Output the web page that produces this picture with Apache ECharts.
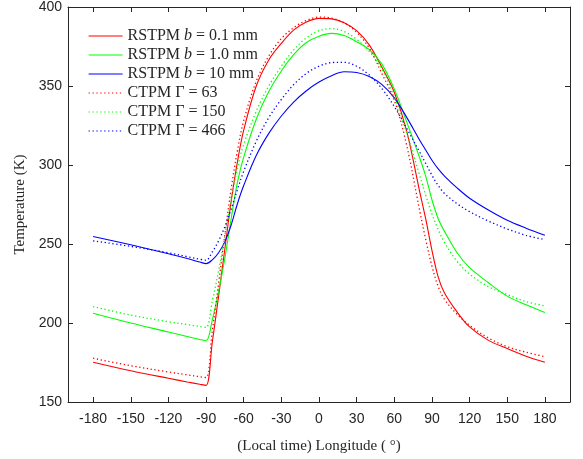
<!DOCTYPE html>
<html>
<head>
<meta charset="utf-8">
<script src="https://cdn.jsdelivr.net/npm/echarts@6/dist/echarts.min.js"></script>
<style>
html,body{margin:0;padding:0;background:#fff;}
#c{width:583px;height:459px;}
</style>
</head>
<body>
<div id="c"></div>
<script>
var longitudes = [-180,-150,-120,-105,-95,-90,-85,-80,-75,-70,-65,-60,-50,-40,-30,-20,-10,0,10,20,30,40,50,60,70,80,85,90,95,100,110,120,135,150,165,180];
var rstpm01 = [175.2,169.8,165,162.7,161.2,160.5,188,217,247,277,302,322,350,366.5,377,385.5,390.5,392.8,392.5,390,385,376,362,346,321,284,266,246,229,219,207,197.5,189,183.8,179,175.2];
var rstpm10 = [206.2,200,194.3,191.4,189.6,188.8,202,220,241,266,289,305,329,346.5,359.5,370,377.5,381.5,383.3,382,378,373,364,348,327,305,293,278,266,258,244.5,235,225.5,217,211.5,206.6];
var rstpm100 = [254.8,249.5,243.8,240.8,238.6,237.6,240,244.5,251.5,262,275.5,287,306,320,331,340,347,352.5,356.5,359,358.5,356,351,342.5,330,316,309.5,303,297.5,293,285.5,279,271.5,265,260,255.5];
var ctpm63 = [177.7,173,169,167.2,166,165.5,195,225,256,285,309,328,353,369,380,387,391.5,393.6,393,390,384,374,358,341,312,272,253,236,223,215,205.5,198.5,190.5,185,181.5,178.7];
var ctpm150 = [210.4,205,200.8,199,197.8,197.2,214,233,255,278,298,313,334,350,362.5,373,380.5,385,386.3,384.5,379.5,372,361,343,320,294,281,269,259,251,239,231,223,218,213.5,210.8];
var ctpm466 = [252,248.5,244.5,242,240.4,239.7,245,252,261,272,284.5,296,315,330,341.5,351,358,362.5,364.8,365,362.5,357,348.5,337,323,308.5,301,293.5,287,282,275.5,270.5,264.5,259.5,255.5,252.7];
var xTicks = [-180,-150,-120,-90,-60,-30,0,30,60,90,120,150,180];
var yTicks = [150,200,250,300,350,400];
var seriesNames = ['RSTPM b = 0.1 mm','RSTPM b = 1.0 mm','RSTPM b = 10 mm','CTPM Γ = 63','CTPM Γ = 150','CTPM Γ = 466'];

function pairs(ys){ return longitudes.map(function(x,i){ return [x, ys[i]]; }); }

var colors = ['#ff0000','#00ff00','#0000ff','#ff0000','#00ff00','#0000ff'];
var datasets = [rstpm01, rstpm10, rstpm100, ctpm63, ctpm150, ctpm466];
var axisColor = '#262626';
var serif = '"Liberation Serif","DejaVu Serif",serif';
var sans = '"Liberation Sans",Arial,sans-serif';

var series = datasets.map(function(d, i){
  return {
    name: seriesNames[i],
    type: 'line',
    data: pairs(d),
    smooth: 0.35,
    showSymbol: false,
    symbol: 'none',
    z: i < 3 ? 3 : 4,
    lineStyle: { color: colors[i], width: i < 3 ? 1.1 : 1.3, type: i < 3 ? 'solid' : [1.3, 2.6] },
    itemStyle: { color: colors[i] },
    emphasis: { disabled: true }
  };
});

var chart = echarts.init(document.getElementById('c'), null, {renderer: 'canvas'});
chart.setOption({
  animation: false,
  backgroundColor: '#ffffff',
  grid: { left: 68, right: 13, top: 7, bottom: 54, containLabel: false },
  legend: {
    orient: 'vertical',
    left: 83,
    top: 23,
    itemWidth: 34,
    itemHeight: 10,
    itemGap: 3,
    data: seriesNames,
    itemStyle: { opacity: 0 },
    lineStyle: { width: 1.2 },
    textStyle: { fontFamily: serif, fontSize: 16, lineHeight: 16, color: '#262626', padding: [0,0,0,0],
      rich: { i: { fontFamily: serif, fontStyle: 'italic', fontSize: 16, lineHeight: 16, color: '#262626' } } },
    formatter: function(name){ return name.replace(' b ', ' {i|b} '); }
  },
  xAxis: [{
    type: 'value', min: -200, max: 200,
    name: '(Local time) Longitude ( °)', nameLocation: 'middle', nameGap: 37,
    nameTextStyle: { fontFamily: serif, fontSize: 15, color: axisColor },
    axisLine: { show: true, onZero: false, lineStyle: { color: axisColor, width: 1 } },
    axisTick: { show: true, inside: true, length: 5, customValues: xTicks, lineStyle: { color: axisColor } },
    axisLabel: { customValues: xTicks, fontFamily: sans, fontSize: 14, color: axisColor, margin: 10 },
    splitLine: { show: false }
  },{
    type: 'value', min: -200, max: 200, position: 'top',
    axisLine: { show: true, onZero: false, lineStyle: { color: axisColor, width: 1 } },
    axisTick: { show: true, inside: true, length: 5, customValues: xTicks, lineStyle: { color: axisColor } },
    axisLabel: { show: false },
    splitLine: { show: false }
  }],
  yAxis: [{
    type: 'value', min: 150, max: 400, interval: 50,
    name: 'Temperature (K)', nameLocation: 'middle', nameGap: 38,
    nameTextStyle: { fontFamily: serif, fontSize: 15, color: axisColor },
    axisLine: { show: true, onZero: false, lineStyle: { color: axisColor, width: 1 } },
    axisTick: { show: true, inside: true, length: 5, lineStyle: { color: axisColor } },
    axisLabel: { fontFamily: sans, fontSize: 14, color: axisColor, margin: 6 },
    splitLine: { show: false }
  },{
    type: 'value', min: 150, max: 400, interval: 50, position: 'right',
    axisLine: { show: true, onZero: false, lineStyle: { color: axisColor, width: 1 } },
    axisTick: { show: true, inside: true, length: 5, lineStyle: { color: axisColor } },
    axisLabel: { show: false },
    splitLine: { show: false }
  }],
  series: series
});
</script>
</body>
</html>
